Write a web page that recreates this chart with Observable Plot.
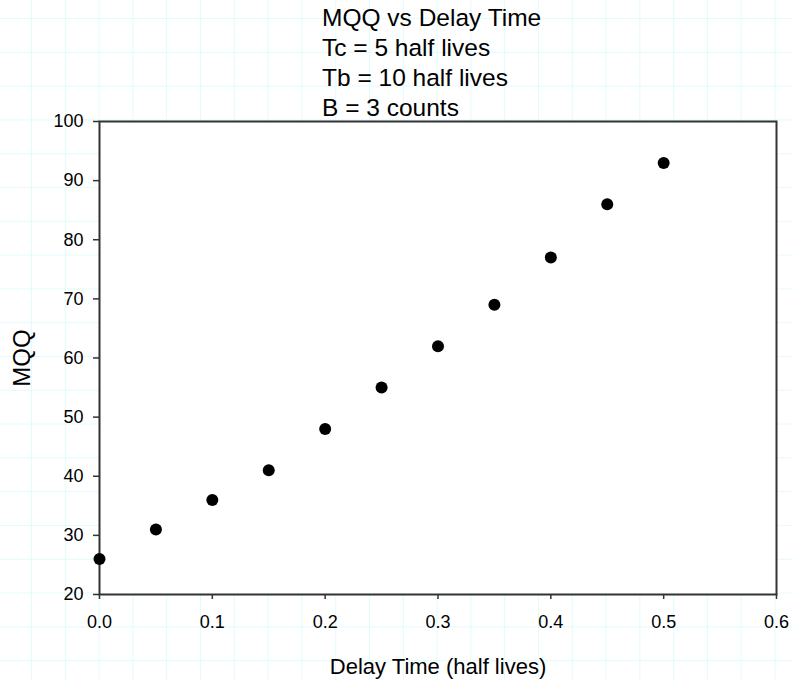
<!DOCTYPE html>
<html>
<head>
<meta charset="utf-8">
<script src="https://cdn.jsdelivr.net/npm/d3@7"></script>
<script src="https://cdn.jsdelivr.net/npm/@observablehq/plot@0.6"></script>
<style>
  html, body { margin: 0; padding: 0; }
  body {
    width: 793px; height: 680px; overflow: hidden;
    background-color: #ffffff;
    background-image:
      linear-gradient(to right, #e2fbfb 1px, transparent 1px),
      linear-gradient(to bottom, #e2fbfb 1px, transparent 1px);
    background-size: 33.8px 33.8px;
    background-position: 31px 18px;
    font-family: "Liberation Sans", Arial, sans-serif;
  }
  #title {
    position: relative; height: 100px; padding-top: 3px; box-sizing: border-box;
    margin-left: 322px; font-size: 24.5px; line-height: 30px; color: #000;
    white-space: nowrap; z-index: 2;
  }
  #title div { height: 30px; display: flex; align-items: center; }
  #chart { position: relative; z-index: 1; }
</style>
</head>
<body>
<div id="title"></div>
<div id="chart"></div>
<script>
const titleLines = ["MQQ vs Delay Time", "Tc = 5 half lives", "Tb = 10 half lives", "B = 3 counts"];
const delayTime = [0, 0.05, 0.1, 0.15, 0.2, 0.25, 0.3, 0.35, 0.4, 0.45, 0.5];
const mqq = [26, 31, 36, 41, 48, 55, 62, 69, 77, 86, 93];
const xTicks = [0, 0.1, 0.2, 0.3, 0.4, 0.5, 0.6];
const yTicks = [20, 30, 40, 50, 60, 70, 80, 90, 100];
const xLabel = "Delay Time (half lives)";
const yLabel = "MQQ";

const titleEl = document.getElementById("title");
for (const t of titleLines) {
  const d = document.createElement("div");
  d.textContent = t;
  titleEl.appendChild(d);
}

const data = delayTime.map((x, i) => ({x, y: mqq[i]}));

const chart = Plot.plot({
  width: 793,
  height: 580,
  marginLeft: 99,
  marginRight: 17,
  marginTop: 21,
  marginBottom: 86,
  style: {background: "transparent", fontFamily: "Liberation Sans, Arial, sans-serif", color: "#000"},
  x: {domain: [0, 0.6]},
  y: {domain: [20, 100]},
  marks: [
    Plot.frame({fill: "white", stroke: null}),
    Plot.axisX({ticks: xTicks, tickFormat: d3.format(".1f"), tickSize: 5, tickPadding: 16,
      fontSize: 18, stroke: "#333", strokeWidth: 1.5, strokeOpacity: 1,
      label: xLabel, labelAnchor: "center", labelArrow: "none", labelOffset: 79}),
    Plot.axisY({ticks: yTicks, tickSize: 6, tickPadding: 10,
      fontSize: 18, stroke: "#333", strokeWidth: 1.5, strokeOpacity: 1,
      label: yLabel, labelAnchor: "center", labelArrow: "none", labelOffset: 87}),
    Plot.frame({stroke: "#333", strokeWidth: 2}),
    Plot.dot(data, {x: "x", y: "y", r: 6, fill: "black", stroke: null})
  ]
});
d3.select(chart).selectAll('g[aria-label="x-axis tick label"], g[aria-label="y-axis tick label"]').attr("font-size", 18);
d3.select(chart).selectAll('g[aria-label="x-axis label"]').attr("font-size", 22);
d3.select(chart).selectAll('g[aria-label="y-axis label"]').attr("font-size", 24);
document.getElementById("chart").appendChild(chart);
</script>
</body>
</html>
